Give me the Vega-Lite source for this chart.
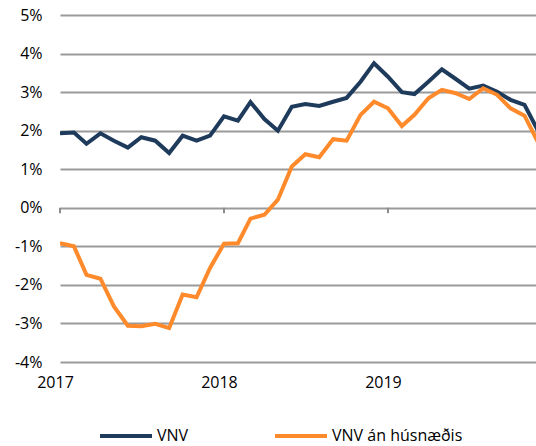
{
  "$schema": "https://vega.github.io/schema/vega-lite/v6.json",
  "autosize": {"type": "none"},
  "padding": {"left": 60, "top": 15, "right": 0, "bottom": 84},
  "width": 478,
  "height": 347,
  "background": "white",
  "config": {
    "view": {"stroke": null},
    "font": "Open Sans",
    "axis": {"labelFont": "Open Sans", "labelFontSize": 16, "labelColor": "#000000"},
    "axisY": {"tickCount": 10},
    "legend": {"labelFont": "Open Sans", "labelFontSize": 16, "labelColor": "#000000"}
  },
  "datasets": {
    "series": [
      {"date": "2017-01-01", "series": "VNV", "value": 1.93},
      {"date": "2017-02-01", "series": "VNV", "value": 1.95},
      {"date": "2017-03-01", "series": "VNV", "value": 1.66},
      {"date": "2017-04-01", "series": "VNV", "value": 1.93},
      {"date": "2017-05-01", "series": "VNV", "value": 1.74},
      {"date": "2017-06-01", "series": "VNV", "value": 1.56},
      {"date": "2017-07-01", "series": "VNV", "value": 1.83},
      {"date": "2017-08-01", "series": "VNV", "value": 1.74},
      {"date": "2017-09-01", "series": "VNV", "value": 1.42},
      {"date": "2017-10-01", "series": "VNV", "value": 1.87},
      {"date": "2017-11-01", "series": "VNV", "value": 1.74},
      {"date": "2017-12-01", "series": "VNV", "value": 1.87},
      {"date": "2018-01-01", "series": "VNV", "value": 2.37},
      {"date": "2018-02-01", "series": "VNV", "value": 2.26},
      {"date": "2018-03-01", "series": "VNV", "value": 2.74},
      {"date": "2018-04-01", "series": "VNV", "value": 2.3},
      {"date": "2018-05-01", "series": "VNV", "value": 2.0},
      {"date": "2018-06-01", "series": "VNV", "value": 2.62},
      {"date": "2018-07-01", "series": "VNV", "value": 2.69},
      {"date": "2018-08-01", "series": "VNV", "value": 2.64},
      {"date": "2018-09-01", "series": "VNV", "value": 2.75},
      {"date": "2018-10-01", "series": "VNV", "value": 2.85},
      {"date": "2018-11-01", "series": "VNV", "value": 3.27},
      {"date": "2018-12-01", "series": "VNV", "value": 3.75},
      {"date": "2019-01-01", "series": "VNV", "value": 3.4},
      {"date": "2019-02-01", "series": "VNV", "value": 3.0},
      {"date": "2019-03-01", "series": "VNV", "value": 2.95},
      {"date": "2019-04-01", "series": "VNV", "value": 3.27},
      {"date": "2019-05-01", "series": "VNV", "value": 3.59},
      {"date": "2019-06-01", "series": "VNV", "value": 3.34},
      {"date": "2019-07-01", "series": "VNV", "value": 3.09},
      {"date": "2019-08-01", "series": "VNV", "value": 3.17},
      {"date": "2019-09-01", "series": "VNV", "value": 3.01},
      {"date": "2019-10-01", "series": "VNV", "value": 2.8},
      {"date": "2019-11-01", "series": "VNV", "value": 2.67},
      {"date": "2019-12-01", "series": "VNV", "value": 2.0},
      {"date": "2017-01-01", "series": "VNV án húsnæðis", "value": -0.92},
      {"date": "2017-02-01", "series": "VNV án húsnæðis", "value": -1.0},
      {"date": "2017-03-01", "series": "VNV án húsnæðis", "value": -1.74},
      {"date": "2017-04-01", "series": "VNV án húsnæðis", "value": -1.84},
      {"date": "2017-05-01", "series": "VNV án húsnæðis", "value": -2.56},
      {"date": "2017-06-01", "series": "VNV án húsnæðis", "value": -3.06},
      {"date": "2017-07-01", "series": "VNV án húsnæðis", "value": -3.07},
      {"date": "2017-08-01", "series": "VNV án húsnæðis", "value": -3.01},
      {"date": "2017-09-01", "series": "VNV án húsnæðis", "value": -3.12},
      {"date": "2017-10-01", "series": "VNV án húsnæðis", "value": -2.25},
      {"date": "2017-11-01", "series": "VNV án húsnæðis", "value": -2.32},
      {"date": "2017-12-01", "series": "VNV án húsnæðis", "value": -1.56},
      {"date": "2018-01-01", "series": "VNV án húsnæðis", "value": -0.93},
      {"date": "2018-02-01", "series": "VNV án húsnæðis", "value": -0.92},
      {"date": "2018-03-01", "series": "VNV án húsnæðis", "value": -0.28},
      {"date": "2018-04-01", "series": "VNV án húsnæðis", "value": -0.18},
      {"date": "2018-05-01", "series": "VNV án húsnæðis", "value": 0.21},
      {"date": "2018-06-01", "series": "VNV án húsnæðis", "value": 1.07},
      {"date": "2018-07-01", "series": "VNV án húsnæðis", "value": 1.39},
      {"date": "2018-08-01", "series": "VNV án húsnæðis", "value": 1.31},
      {"date": "2018-09-01", "series": "VNV án húsnæðis", "value": 1.78},
      {"date": "2018-10-01", "series": "VNV án húsnæðis", "value": 1.74},
      {"date": "2018-11-01", "series": "VNV án húsnæðis", "value": 2.41},
      {"date": "2018-12-01", "series": "VNV án húsnæðis", "value": 2.75},
      {"date": "2019-01-01", "series": "VNV án húsnæðis", "value": 2.58},
      {"date": "2019-02-01", "series": "VNV án húsnæðis", "value": 2.12},
      {"date": "2019-03-01", "series": "VNV án húsnæðis", "value": 2.41},
      {"date": "2019-04-01", "series": "VNV án húsnæðis", "value": 2.84},
      {"date": "2019-05-01", "series": "VNV án húsnæðis", "value": 3.06},
      {"date": "2019-06-01", "series": "VNV án húsnæðis", "value": 2.97},
      {"date": "2019-07-01", "series": "VNV án húsnæðis", "value": 2.82},
      {"date": "2019-08-01", "series": "VNV án húsnæðis", "value": 3.1},
      {"date": "2019-09-01", "series": "VNV án húsnæðis", "value": 2.93},
      {"date": "2019-10-01", "series": "VNV án húsnæðis", "value": 2.58},
      {"date": "2019-11-01", "series": "VNV án húsnæðis", "value": 2.39},
      {"date": "2019-12-01", "series": "VNV án húsnæðis", "value": 1.7}
    ],
    "years": [
      {"date": "2017-01-01"},
      {"date": "2018-01-01"},
      {"date": "2019-01-01"}
    ]
  },
  "layer": [
    {
      "data": {"name": "series"},
      "mark": {"type": "line", "strokeWidth": 4, "strokeJoin": "miter", "clip": true},
      "encoding": {
        "x": {
          "field": "date",
          "type": "temporal",
          "scale": {"domain": ["2017-01-01", "2019-12-01"]},
          "axis": {
            "title": null,
            "values": ["2017-01-01", "2018-01-01", "2019-01-01"],
            "format": "%Y",
            "domain": false,
            "ticks": false,
            "grid": false,
            "labelPadding": 12,
            "labelOffset": -5,
            "labelAlign": "center",
            "labelFlush": false,
            "labelOverlap": false
          }
        },
        "y": {
          "field": "value",
          "type": "quantitative",
          "scale": {"domain": [-4, 5], "nice": false, "zero": false},
          "axis": {
            "title": null,
            "values": [-4, -3, -2, -1, 0, 1, 2, 3, 4, 5],
            "tickCount": 10,
            "labelExpr": "datum.value + '%'",
            "domain": false,
            "ticks": false,
            "grid": true,
            "gridColor": "#9a9a9a",
            "gridWidth": 2,
            "labelPadding": 18,
            "labelFlush": false,
            "labelOverlap": false
          }
        },
        "color": {
          "field": "series",
          "type": "nominal",
          "scale": {"domain": ["VNV", "VNV án húsnæðis"], "range": ["#1f3b5c", "#ff8a2b"]},
          "legend": {
            "title": null,
            "orient": "none",
            "legendX": 38,
            "legendY": 393,
            "direction": "horizontal",
            "symbolType": "stroke",
            "symbolSize": 2704,
            "symbolStrokeWidth": 4,
            "labelOffset": 3,
            "columnPadding": 78
          }
        }
      }
    },
    {
      "data": {"name": "years"},
      "mark": {"type": "rule", "color": "#8c8c8c", "strokeWidth": 2},
      "encoding": {
        "x": {"field": "date", "type": "temporal"},
        "y": {
          "datum": 0,
          "type": "quantitative",
          "axis": {
            "title": null,
            "values": [-4, -3, -2, -1, 0, 1, 2, 3, 4, 5],
            "tickCount": 10,
            "labelExpr": "datum.value + '%'",
            "domain": false,
            "ticks": false,
            "grid": true,
            "gridColor": "#9a9a9a",
            "gridWidth": 2,
            "labelPadding": 18,
            "labelFlush": false,
            "labelOverlap": false
          }
        },
        "y2": {"datum": -0.14}
      }
    }
  ]
}
